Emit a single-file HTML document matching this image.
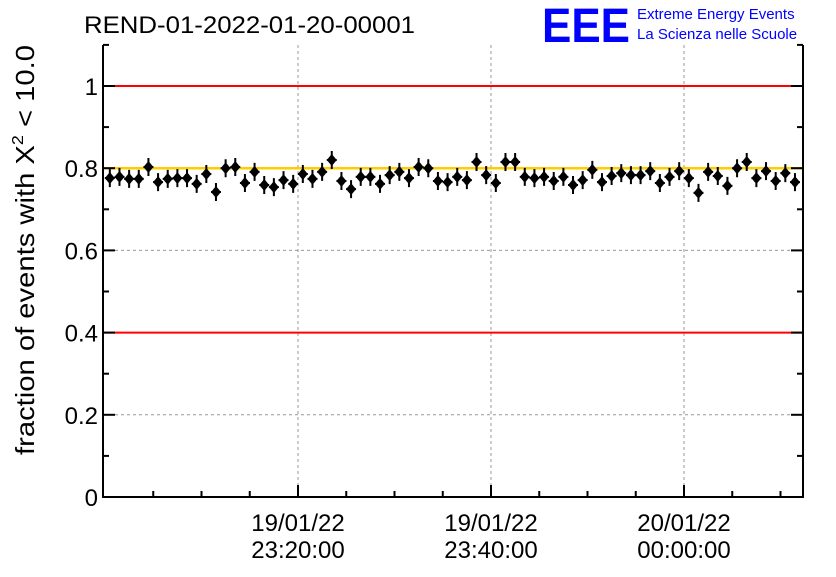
<!DOCTYPE html>
<html><head><meta charset="utf-8"><style>
body{margin:0;background:#fff;width:836px;height:572px;overflow:hidden}
text{font-family:"Liberation Sans",sans-serif}
</style></head><body>
<svg id="chart" width="836" height="572" xmlns="http://www.w3.org/2000/svg">
<text x="84" y="33" font-size="24" textLength="331" lengthAdjust="spacingAndGlyphs">REND-01-2022-01-20-00001</text>
<g>
<text x="542" y="42" font-size="48" font-weight="bold" fill="#0000ff" textLength="88" lengthAdjust="spacingAndGlyphs">EEE</text>
<text x="637" y="19" font-size="15" fill="#0000ff">Extreme Energy Events</text>
<text x="637" y="39" font-size="15" fill="#0000ff">La Scienza nelle Scuole</text>
</g>
<text transform="translate(34,455) rotate(-90)" font-size="26" textLength="410" lengthAdjust="spacingAndGlyphs">fraction of events with X<tspan dy="-11" font-size="16">2</tspan><tspan dy="11"> &lt; 10.0</tspan></text>
<g id="grid"></g><g id="axes"></g><g id="marks"></g>
</svg>
<script>
const yTicks=[0,0.2,0.4,0.6,0.8,1];
const yTickLabels=["0","0.2","0.4","0.6","0.8","1"];
const xMajorMinutes=[0,20,40];
const xTickLabels=[["19/01/22","23:20:00"],["19/01/22","23:40:00"],["20/01/22","00:00:00"]];
const redLines=[0.4,1.0];
const orangeLine=[0.8];
const pixY=[178,177,179,179,167,182,179,178,178,184,174,192,168,167,183,172,185,187,180,184,174,179,172,160,181,189,177,177,184,175,172,178,167,168,181,182,177,180,162,175,183,162,162,177,178,177,181,177,185,180,170,182,176,173,175,175,171,183,177,171,178,193,172,176,186,168,162,178,171,181,173,182];
const values=pixY.map(p=>+((497-p)/411).toFixed(3));
const minutes=values.map((v,i)=>-19.5+i);
const X0=103,X1=803,Y0=497;
const xs=t=>298+t*9.65;
const ys=v=>Y0-v*411;
const NS="http://www.w3.org/2000/svg";
function mk(tag,attrs,parent){const e=document.createElementNS(NS,tag);for(const k in attrs)e.setAttribute(k,attrs[k]);document.getElementById(parent).appendChild(e);return e;}
yTicks.forEach(v=>{if(v>0){const l=mk('line',{x1:X0,x2:X1,y1:ys(v),y2:ys(v),stroke:'#999','stroke-dasharray':'3,3'},'grid');

}});
xMajorMinutes.forEach(t=>{const l=mk('line',{x1:xs(t),x2:xs(t),y1:45,y2:Y0,stroke:'#999','stroke-dasharray':'3,3'},'grid');

});
redLines.forEach(v=>{const l=mk('line',{x1:X0,x2:X1,y1:ys(v),y2:ys(v),stroke:'#f00','stroke-width':2},'grid');

});
orangeLine.forEach(v=>{const l=mk('line',{x1:X0,x2:X1,y1:ys(v),y2:ys(v),stroke:'#ffcc00','stroke-width':2.5},'grid');

});
const ax=mk('path',{d:`M${X0},45V${Y0}H${X1}V45`,fill:'none',stroke:'#000','stroke-width':2},'axes');


for(let v=0;v<=1.1;v+=0.1){const major=Math.round(v*10)%2===0;const len=major?12:6;
mk('line',{x1:X0,x2:X0+len,y1:ys(v),y2:ys(v),stroke:'#000','stroke-width':2},'axes');
mk('line',{x1:X1,x2:X1-len,y1:ys(v),y2:ys(v),stroke:'#000','stroke-width':2},'axes');}
yTicks.forEach((v,i)=>{const t=mk('text',{x:X0-5,y:ys(v)+9,'text-anchor':'end','font-size':24},'axes');t.textContent=yTickLabels[i];

});
for(let t=-15;t<=50;t+=5){const major=xMajorMinutes.includes(t);mk('line',{x1:xs(t),x2:xs(t),y1:Y0,y2:Y0-(major?12:6),stroke:'#000','stroke-width':2},'axes');}
xMajorMinutes.forEach((t,i)=>{xTickLabels[i].forEach((s,j)=>{const e=mk('text',{x:xs(t),y:531+j*27,'text-anchor':'middle','font-size':24},'axes');e.textContent=s;

});});
values.forEach((v,i)=>{const x=xs(minutes[i]),y=ys(v);
const g=mk('g',{},'marks');


const a=document.createElementNS(NS,'path');a.setAttribute('d',`M${x},${y-9}V${y+9}M${x-5},${y}H${x+5}`);a.setAttribute('stroke','#000');a.setAttribute('stroke-width','2');g.appendChild(a);
const d=document.createElementNS(NS,'path');d.setAttribute('d',`M${x},${y-6}L${x+5},${y}L${x},${y+6}L${x-5},${y}Z`);d.setAttribute('fill','#000');g.appendChild(d);});
</script>
</body></html>
